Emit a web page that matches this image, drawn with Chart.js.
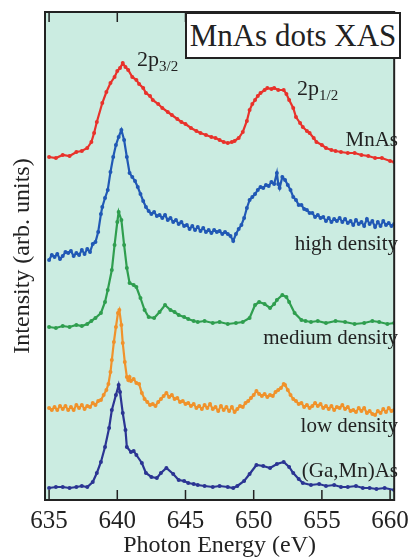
<!DOCTYPE html>
<html>
<head>
<meta charset="utf-8">
<script src="https://cdn.jsdelivr.net/npm/chart.js@4"></script>
<style>
  body { margin: 0; background: #fff; }
  #wrap { position: relative; width: 415px; height: 558px; font-family: "Liberation Serif", serif; color: #222; }
  #titleBox {
    position: absolute; left: 185px; top: 12px; width: 212px; height: 43px;
    background: #fff; border: 2px solid #222; font-size: 31px; line-height: 43px; text-align: center; white-space: nowrap;
  }
  .peak { position: absolute; font-size: 22px; line-height: 1; }
  .peak sub { font-size: 15px; vertical-align: -5px; }
  .curveLabel { position: absolute; right: 17px; font-size: 21px; line-height: 1; white-space: nowrap; }
</style>
</head>
<body>
<div id="wrap">
  <canvas id="myChart" width="415" height="558"></canvas>
  <div id="titleBox">MnAs dots XAS</div>
  <div class="peak" style="left:137px; top:48px;">2p<sub>3/2</sub></div>
  <div class="peak" style="left:297px; top:77px;">2p<sub>1/2</sub></div>
</div>
<script>
// tick labels on the energy axis
const energyTicks = [635, 640, 645, 650, 655, 660];

// MnAs (red)
const mnasE = [635.0, 635.5, 636.0, 636.5, 637.0, 637.4, 637.8, 638.1, 638.3, 638.5, 638.9, 639.2, 639.5, 639.8, 640.0, 640.2, 640.4, 640.6, 640.8, 641.1, 641.4, 641.6, 641.9, 642.1, 642.4, 642.6, 643.0, 643.3, 643.7, 644.0, 644.4, 644.7, 645.0, 645.4, 645.8, 646.1, 646.5, 646.9, 647.2, 647.5, 647.8, 648.1, 648.4, 648.6, 648.9, 649.2, 649.5, 649.7, 649.9, 650.1, 650.3, 650.5, 650.8, 651.0, 651.3, 651.5, 651.8, 652.2, 652.4, 652.6, 652.9, 653.1, 653.4, 653.6, 653.9, 654.1, 654.4, 654.6, 655.0, 655.3, 655.7, 656.0, 656.4, 656.9, 657.4, 657.9, 658.4, 658.9, 659.4, 660.0, 660.3];
const mnasI = [34.3, 34.2, 34.5, 34.4, 34.8, 34.9, 35.2, 35.8, 36.7, 37.8, 39.7, 40.8, 41.7, 42.3, 42.9, 43.2, 43.7, 43.3, 43.0, 42.3, 42.0, 41.6, 41.2, 40.7, 40.4, 40.0, 39.6, 39.2, 38.8, 38.5, 38.1, 37.8, 37.6, 37.2, 36.9, 36.7, 36.5, 36.3, 36.2, 36.0, 35.8, 35.7, 35.8, 35.9, 36.2, 36.8, 37.9, 39.0, 39.6, 40.0, 40.4, 40.7, 41.0, 41.2, 41.1, 41.2, 41.0, 41.0, 40.6, 40.0, 39.2, 38.3, 37.7, 37.3, 36.9, 36.7, 36.2, 35.8, 35.5, 35.2, 35.0, 34.9, 34.8, 34.7, 34.7, 34.5, 34.4, 34.2, 34.2, 33.9, 33.8];

// high density dots (blue)
const highE = [635.0, 635.2, 635.4, 635.6, 635.8, 636.0, 636.2, 636.4, 636.6, 636.8, 637.0, 637.2, 637.4, 637.6, 637.8, 638.0, 638.2, 638.4, 638.6, 638.8, 638.9, 639.1, 639.3, 639.5, 639.7, 639.9, 640.1, 640.3, 640.5, 640.7, 640.9, 641.1, 641.3, 641.5, 641.7, 641.9, 642.1, 642.3, 642.5, 642.7, 642.9, 643.1, 643.3, 643.5, 643.7, 643.9, 644.1, 644.3, 644.5, 644.7, 644.9, 645.1, 645.3, 645.5, 645.7, 645.9, 646.1, 646.3, 646.5, 646.7, 646.9, 647.1, 647.3, 647.5, 647.7, 647.9, 648.1, 648.3, 648.5, 648.7, 648.9, 649.1, 649.3, 649.5, 649.7, 649.9, 650.1, 650.3, 650.5, 650.7, 650.9, 651.1, 651.3, 651.5, 651.7, 651.8, 651.9, 652.1, 652.3, 652.5, 652.7, 652.9, 653.1, 653.3, 653.5, 653.7, 653.9, 654.1, 654.3, 654.5, 654.7, 654.9, 655.1, 655.3, 655.5, 655.7, 655.9, 656.1, 656.3, 656.5, 656.7, 656.9, 657.1, 657.3, 657.5, 657.7, 657.9, 658.1, 658.3, 658.5, 658.7, 658.9, 659.1, 659.3, 659.5, 659.7, 659.9, 660.1, 660.3];
const highI = [24.0, 24.5, 24.3, 24.6, 24.1, 24.4, 24.8, 24.7, 24.9, 24.4, 24.7, 24.5, 25.0, 24.6, 25.1, 24.8, 25.6, 25.8, 26.8, 28.6, 29.3, 30.2, 31.0, 32.8, 34.3, 35.5, 36.3, 37.0, 36.0, 34.3, 32.7, 32.3, 31.9, 31.3, 30.6, 29.9, 29.3, 28.9, 28.6, 28.8, 28.4, 28.5, 28.2, 28.5, 28.0, 28.2, 27.8, 28.0, 27.6, 27.8, 27.4, 27.5, 27.1, 27.4, 27.0, 27.3, 26.9, 27.2, 26.8, 27.0, 26.7, 27.0, 26.8, 26.9, 26.6, 26.8, 26.6, 26.4, 25.9, 26.6, 27.1, 27.5, 28.2, 29.2, 30.0, 30.3, 30.6, 31.0, 31.3, 31.2, 31.5, 31.4, 31.8, 31.6, 32.7, 31.6, 31.2, 32.3, 32.0, 31.5, 31.0, 30.3, 30.0, 29.5, 29.5, 29.1, 29.0, 28.7, 28.7, 28.3, 28.5, 28.2, 28.3, 27.9, 28.2, 27.8, 28.1, 27.9, 28.2, 27.8, 28.1, 27.7, 27.9, 27.5, 28.0, 27.6, 27.8, 27.4, 28.1, 27.6, 27.9, 27.3, 27.8, 27.4, 27.9, 27.5, 27.7, 27.4, 27.6];

// medium density dots (green)
const medE = [635.0, 635.5, 636.0, 636.5, 637.0, 637.4, 637.8, 638.1, 638.4, 638.8, 639.1, 639.3, 639.6, 639.8, 640.0, 640.1, 640.3, 640.5, 640.7, 640.9, 641.2, 641.4, 641.7, 642.0, 642.3, 642.7, 643.1, 643.5, 643.9, 644.2, 644.5, 644.9, 645.2, 645.6, 645.9, 646.4, 647.0, 647.5, 648.1, 648.7, 649.2, 649.7, 650.1, 650.4, 650.8, 651.2, 651.5, 651.7, 652.1, 652.4, 652.6, 653.0, 653.5, 653.8, 654.2, 654.7, 655.3, 656.0, 656.7, 657.4, 658.1, 658.7, 659.2, 659.8, 660.3];
const medI = [17.3, 17.2, 17.4, 17.3, 17.5, 17.4, 17.6, 17.9, 18.2, 18.7, 19.8, 21.0, 23.0, 25.5, 27.8, 28.8, 28.0, 25.5, 23.2, 21.7, 21.5, 21.3, 20.2, 19.0, 18.3, 18.2, 18.8, 19.5, 19.0, 18.8, 18.5, 18.3, 18.1, 17.9, 17.8, 17.9, 17.7, 17.8, 17.6, 17.7, 17.8, 18.2, 19.5, 19.8, 19.6, 19.2, 19.6, 20.0, 20.5, 20.3, 19.8, 18.7, 18.0, 17.9, 17.8, 17.9, 17.7, 17.9, 17.8, 17.6, 17.7, 17.9, 17.8, 17.6, 17.7];

// low density dots (orange)
const lowE = [635.0, 635.2, 635.4, 635.6, 635.8, 636.0, 636.2, 636.4, 636.6, 636.8, 637.0, 637.2, 637.4, 637.6, 637.8, 638.0, 638.2, 638.4, 638.6, 638.8, 639.0, 639.2, 639.35, 639.5, 639.6, 639.75, 639.9, 640.05, 640.15, 640.3, 640.4, 640.55, 640.7, 640.8, 640.9, 641.0, 641.2, 641.4, 641.6, 641.8, 642.0, 642.2, 642.4, 642.6, 642.8, 643.0, 643.2, 643.4, 643.6, 643.8, 644.0, 644.2, 644.4, 644.6, 644.8, 645.0, 645.2, 645.4, 645.6, 645.8, 646.0, 646.2, 646.4, 646.6, 646.8, 647.0, 647.2, 647.4, 647.6, 647.8, 648.0, 648.2, 648.4, 648.6, 648.8, 649.0, 649.2, 649.4, 649.6, 649.8, 650.0, 650.2, 650.4, 650.6, 650.8, 651.0, 651.2, 651.4, 651.6, 651.8, 652.0, 652.2, 652.3, 652.5, 652.7, 652.9, 653.1, 653.3, 653.5, 653.7, 653.9, 654.1, 654.3, 654.5, 654.7, 654.9, 655.1, 655.3, 655.5, 655.7, 655.9, 656.1, 656.3, 656.5, 656.7, 656.9, 657.1, 657.3, 657.5, 657.7, 657.9, 658.1, 658.3, 658.5, 658.7, 658.9, 659.1, 659.3, 659.5, 659.7, 659.9, 660.1, 660.3];
const lowI = [9.2, 9.0, 9.3, 9.0, 9.4, 9.1, 9.4, 9.0, 9.3, 9.0, 9.5, 9.2, 9.5, 9.1, 9.4, 9.3, 9.7, 9.5, 9.9, 10.0, 10.5, 11.0, 11.6, 12.8, 14.0, 15.8, 17.3, 18.7, 19.0, 17.5, 15.7, 13.8, 12.3, 12.0, 12.3, 11.9, 12.1, 11.7, 11.6, 10.7, 10.1, 9.8, 9.5, 9.6, 9.4, 9.8, 10.1, 10.4, 10.7, 10.3, 10.5, 10.1, 10.2, 9.8, 9.9, 9.6, 9.7, 9.4, 9.6, 9.2, 9.4, 9.1, 9.5, 9.2, 9.6, 9.1, 9.3, 8.9, 9.4, 9.0, 9.3, 8.9, 9.3, 8.8, 9.1, 9.4, 9.3, 9.7, 9.9, 10.2, 10.5, 10.9, 10.6, 10.4, 10.6, 10.3, 10.5, 10.4, 10.8, 11.0, 11.2, 11.6, 11.5, 11.0, 10.5, 10.1, 9.9, 9.6, 9.7, 9.3, 9.5, 9.2, 9.4, 9.7, 9.4, 9.6, 9.2, 9.4, 9.1, 9.4, 9.0, 9.3, 9.2, 9.5, 9.1, 9.3, 8.9, 9.0, 8.8, 9.2, 8.9, 9.2, 8.7, 8.9, 8.6, 8.5, 8.9, 8.7, 9.1, 8.8, 9.2, 8.9, 9.0];

// (Ga,Mn)As (dark blue)
const gamnE = [635.0, 635.5, 636.0, 636.5, 637.0, 637.4, 637.8, 638.2, 638.5, 638.8, 639.1, 639.4, 639.6, 639.9, 640.1, 640.2, 640.4, 640.6, 640.7, 641.0, 641.2, 641.4, 641.8, 642.1, 642.5, 642.9, 643.2, 643.6, 644.1, 644.5, 644.9, 645.2, 645.6, 645.9, 646.4, 647.0, 647.5, 648.1, 648.5, 648.8, 649.3, 649.7, 650.2, 650.7, 651.2, 651.7, 652.2, 652.6, 652.9, 653.3, 653.6, 654.2, 654.8, 655.3, 655.9, 656.4, 656.9, 657.5, 658.0, 658.5, 659.0, 659.6, 660.3];
const gamnI = [1.2, 1.3, 1.3, 1.2, 1.3, 1.4, 1.3, 1.8, 2.7, 3.8, 5.3, 7.2, 9.0, 10.5, 11.5, 10.8, 8.7, 7.0, 5.3, 4.8, 4.9, 4.5, 3.7, 2.7, 2.3, 2.2, 2.7, 3.2, 2.6, 2.0, 1.9, 1.7, 1.6, 1.5, 1.4, 1.3, 1.4, 1.3, 1.2, 1.4, 1.9, 2.6, 3.5, 3.4, 3.2, 3.6, 3.8, 3.3, 2.7, 2.1, 1.7, 1.5, 1.6, 1.4, 1.5, 1.3, 1.3, 1.4, 1.2, 1.2, 1.1, 1.2, 1.0];

const curveNames = ["MnAs", "high density", "medium density", "low density", "(Ga,Mn)As"];
const curveColors = ["#e8322b", "#2159b5", "#2f9e4f", "#f0922b", "#2b3593"];
const curveLabelTops = [129, 233, 327, 415, 460];

const series = [
  [mnasE, mnasI],
  [highE, highI],
  [medE, medI],
  [lowE, lowI],
  [gamnE, gamnI],
];

const serif = "'Liberation Serif', 'Times New Roman', serif";

// light aqua plot background, black frame and inward ticks
const framePlugin = {
  id: "frame",
  beforeDraw(chart) {
    const { ctx, chartArea: a } = chart;
    ctx.save();
    ctx.fillStyle = "#cbece1";
    ctx.fillRect(a.left, a.top, a.right - a.left, a.bottom - a.top);
    ctx.restore();
  },
  afterDatasetsDraw(chart) {
    const { ctx, chartArea: a, scales } = chart;
    ctx.save();
    ctx.strokeStyle = "#222";
    ctx.lineWidth = 2;
    ctx.strokeRect(a.left, a.top, a.right - a.left, a.bottom - a.top);
    ctx.lineWidth = 1.5;
    energyTicks.forEach((v) => {
      const px = scales.x.getPixelForValue(v);
      ctx.beginPath();
      ctx.moveTo(px, a.bottom);
      ctx.lineTo(px, a.bottom - 10);
      ctx.moveTo(px, a.top);
      ctx.lineTo(px, a.top + 10);
      ctx.stroke();
    });
    ctx.restore();
  },
};

const datasets = series.map(([es, is], i) => ({
  label: curveNames[i],
  data: es.map((e, k) => ({ x: e, y: is[k] })),
  borderColor: curveColors[i],
  backgroundColor: curveColors[i],
  borderWidth: 2.2,
  pointRadius: 0.9,
  pointHoverRadius: 0,
  tension: 0,
  fill: false,
}));

function drawChart() {
  new Chart("myChart", {
    type: "line",
    data: { datasets },
    plugins: [framePlugin],
    options: {
      responsive: false,
      animation: false,
      devicePixelRatio: 1,
      layout: { padding: { top: 12, right: 14, left: 0, bottom: 0 } },
      plugins: { legend: { display: false }, tooltip: { enabled: false } },
      scales: {
        x: {
          type: "linear",
          min: 634.7,
          max: 660.3,
          afterBuildTicks: (s) => {
            s.ticks = energyTicks.map((v) => ({ value: v }));
          },
          afterFit: (s) => {
            s.height = 58;
          },
          grid: { display: false, drawTicks: false },
          border: { display: false },
          ticks: {
            padding: 6,
            color: "#222",
            font: { family: serif, size: 25 },
            maxRotation: 0,
          },
          title: {
            display: true,
            text: "Photon Energy (eV)",
            color: "#222",
            font: { family: serif, size: 24 },
            padding: { top: 0, bottom: -2 },
          },
        },
        y: {
          min: 0,
          max: 48.8,
          afterFit: (s) => {
            s.width = 45;
          },
          grid: { display: false },
          border: { display: false },
          ticks: { display: false },
          title: {
            display: true,
            text: "Intensity (arb. units)",
            color: "#222",
            font: { family: serif, size: 24 },
            padding: { top: 8, bottom: 0 },
          },
        },
      },
    },
  });
}

// make sure the serif face is ready before the canvas text is drawn
if (document.fonts && document.fonts.load) {
  Promise.all([
    document.fonts.load(`25px 'Liberation Serif'`),
  ]).then(drawChart, drawChart);
} else {
  drawChart();
}

// curve names at the right side of the frame
const wrap = document.getElementById("wrap");
curveNames.forEach((name, i) => {
  let div = document.createElement("div");
  div.setAttribute("class", "curveLabel");
  div.style.top = `${curveLabelTops[i]}px`;
  div.innerText = name;
  wrap.appendChild(div);
});
</script>
</body>
</html>
